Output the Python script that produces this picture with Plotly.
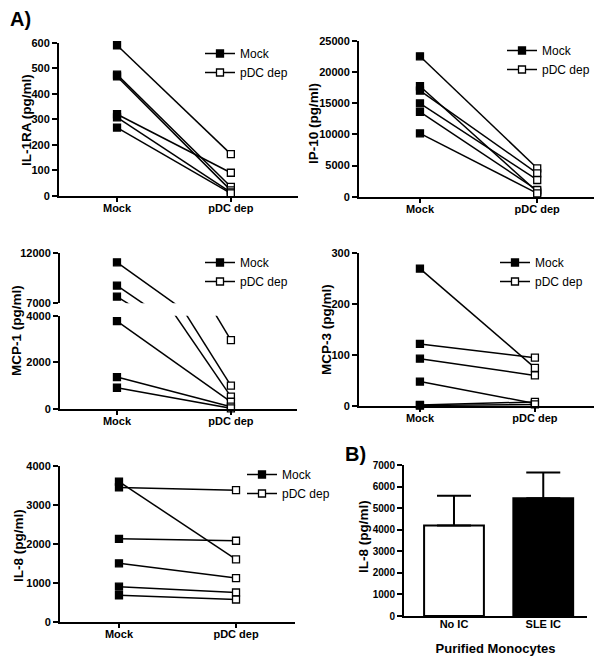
import plotly.graph_objects as go

W, H = 602, 661
PAD = 8  # page body margin offsets the figure in the window

# paired donor values (Mock -> pDC depleted)
groups = ["Mock", "pDC dep"]

il1ra_mock = [590, 475, 468, 320, 308, 268]
il1ra_pdc = [164, 36, 22, 91, 14, 10]

ip10_mock = [22500, 17700, 17000, 14950, 13600, 10150]
ip10_pdc = [4550, 800, 3750, 2680, 1070, 540]

mcp1_mock = [11100, 8770, 7670, 3770, 1370, 910]
mcp1_pdc = [2950, 1000, 530, 310, 100, 30]

mcp3_mock = [270, 122, 93, 48, 2, 1]
mcp3_pdc = [75, 95, 60, 5, 8, 3]

il8_mock = [3600, 3450, 2130, 1500, 900, 680]
il8_pdc = [1600, 3380, 2080, 1120, 750, 570]

# panel B: purified monocytes
mono_groups = ["No IC", "SLE IC"]
mono_il8 = [4190, 5460]
mono_il8_err = [1380, 1190]

FONT = "Liberation Sans, Arial, sans-serif"
FW, FH = W - PAD, H - PAD


def fx(p):
    return (p - PAD) / FW


def fy(p):
    return 1 - (p - PAD) / FH


def add_pairs(fig, xa, ya, mock, pdc, legend, show_legend=True, lo=None, hi=None):
    # connecting lines, one segment per donor
    xs, ys = [], []
    for m, p in zip(mock, pdc):
        xs += [groups[0], groups[1], None]
        ys += [m, p, None]
    fig.add_trace(go.Scatter(x=xs, y=ys, mode="lines", xaxis=xa, yaxis=ya,
                             line=dict(color="black", width=1.5),
                             showlegend=False, hoverinfo="skip"))

    def keep(v):
        if lo is not None and v < lo:
            return None
        if hi is not None and v > hi:
            return None
        return v

    for name, vals, fill in [(groups[0], mock, "black"), (groups[1], pdc, "white")]:
        mx, my = [], []
        for v in vals:
            mx += [name, None]
            my += [keep(v), None]
        fig.add_trace(go.Scatter(
            x=mx, y=my, mode="lines+markers", name=name, xaxis=xa, yaxis=ya,
            legend=legend, showlegend=show_legend, cliponaxis=False,
            line=dict(color="black", width=1.5),
            marker=dict(symbol="square", size=7, color=fill,
                        line=dict(color="black", width=1.3)),
        ))


fig = go.Figure()

add_pairs(fig, "x", "y", il1ra_mock, il1ra_pdc, "legend")
add_pairs(fig, "x2", "y2", ip10_mock, ip10_pdc, "legend2")
add_pairs(fig, "x3", "y3", mcp1_mock, mcp1_pdc, "legend3", hi=4000)
add_pairs(fig, "x3", "y6", mcp1_mock, mcp1_pdc, "legend3", show_legend=False, lo=7000)
add_pairs(fig, "x4", "y4", mcp3_mock, mcp3_pdc, "legend4")
add_pairs(fig, "x5", "y5", il8_mock, il8_pdc, "legend5")

fig.add_trace(go.Bar(
    x=mono_groups, y=mono_il8, xaxis="x7", yaxis="y7", width=0.67,
    marker=dict(color=["white", "black"], line=dict(color="black", width=2)),
    error_y=dict(type="data", symmetric=False, array=mono_il8_err,
                 arrayminus=[0, 0], color="black", thickness=2, width=17),
    showlegend=False,
))

tick_font = dict(family=FONT, size=11, color="black", weight="bold")
title_font = dict(family=FONT, size=13.5, color="black", weight="bold")


def xaxis(left, right, rng, anchor, cats=groups):
    return dict(domain=[fx(left), fx(right)], anchor=anchor, type="category",
                categoryorder="array", categoryarray=cats, range=rng,
                showline=True, linewidth=2, linecolor="black", showgrid=False,
                zeroline=False, ticks="outside", ticklen=4, tickwidth=2,
                tickcolor="black", tickfont=tick_font, fixedrange=True,
                automargin=False, ticklabelstandoff=-3)


def yaxis(top, bottom, rng, dtick, anchor, tickvals=None, size=11):
    d = dict(domain=[fy(bottom), fy(top)], anchor=anchor, range=rng,
             showline=True, linewidth=2, linecolor="black", showgrid=False,
             zeroline=False, ticks="outside", ticklen=5, tickwidth=2,
             tickcolor="black", tickfont=dict(tick_font, size=size),
             tickformat="d", automargin=False, fixedrange=True)
    if tickvals is not None:
        d.update(tickmode="array", tickvals=tickvals)
    else:
        d.update(dtick=dtick, tick0=0)
    return d


legend_base = dict(font=dict(family=FONT, size=12, color="black"),
                   bgcolor="rgba(0,0,0,0)", xanchor="left", yanchor="top",
                   tracegroupgap=0, itemclick=False)

fig.update_layout(
    width=FW, height=FH, margin=dict(l=0, r=0, t=0, b=0),
    template="none",
    plot_bgcolor="white", paper_bgcolor="white",
    font=dict(family=FONT, color="black"),
    xaxis=xaxis(59, 298, [-0.51, 1.59], "y"),
    yaxis=yaxis(42.7, 196, [0, 600], 100, "x"),
    xaxis2=xaxis(359, 597, [-0.52, 1.51], "y2"),
    yaxis2=yaxis(40.7, 196.7, [0, 25000], 5000, "x2"),
    xaxis3=xaxis(60, 297, [-0.5, 1.58], "y3"),
    yaxis3=yaxis(315.7, 409, [0, 4000], 2000, "x3"),
    yaxis6=yaxis(253.3, 303.3, [7000, 12000], None, "x3", tickvals=[7000, 12000]),
    xaxis4=xaxis(359, 597, [-0.53, 1.54], "y4"),
    yaxis4=yaxis(253.3, 406, [0, 300], 100, "x4"),
    xaxis5=xaxis(60, 295, [-0.504, 1.504], "y5"),
    yaxis5=yaxis(466, 621.7, [0, 4000], 1000, "x5"),
    xaxis7=xaxis(404, 587, [-0.56, 1.49], "y7", cats=mono_groups),
    yaxis7=yaxis(465, 616, [0, 7000], 1000, "x7", size=10),
    legend=dict(legend_base, x=fx(200), y=fy(39)),
    legend2=dict(legend_base, x=fx(502), y=fy(36)),
    legend3=dict(legend_base, x=fx(200), y=fy(248)),
    legend4=dict(legend_base, x=fx(495), y=fy(248)),
    legend5=dict(legend_base, x=fx(242), y=fy(460)),
)
fig.update_layout(xaxis7=dict(ticks="", title=dict(text="Purified Monocytes",
                  font=dict(title_font, size=13), standoff=15)))

# rotated y-axis titles, placed where the reference has them
y_titles = [
    ("IL-1RA (pg/ml)", 27, 120),
    ("IP-10 (pg/ml)", 313, 124),
    ("MCP-1 (pg/ml)", 17, 331),
    ("MCP-3 (pg/ml)", 326, 330),
    ("IL-8 (pg/ml)", 18, 546),
    ("IL-8 (pg/ml)", 363, 537),
]
for text, px, py in y_titles:
    fig.add_annotation(text=text, x=fx(px), y=fy(py), xref="paper", yref="paper",
                       textangle=-90, showarrow=False, xanchor="center",
                       yanchor="middle", font=title_font)

fig.add_annotation(text="A)", x=fx(8), y=1, xref="paper", yref="paper",
                   xanchor="left", yanchor="top", showarrow=False, yshift=2,
                   font=dict(family=FONT, size=20, color="black", weight="bold"))
fig.add_annotation(text="B)", x=fx(343), y=fy(441), xref="paper", yref="paper",
                   xanchor="left", yanchor="top", showarrow=False,
                   font=dict(family=FONT, size=20, color="black", weight="bold"))

fig.write_html("out.html")
